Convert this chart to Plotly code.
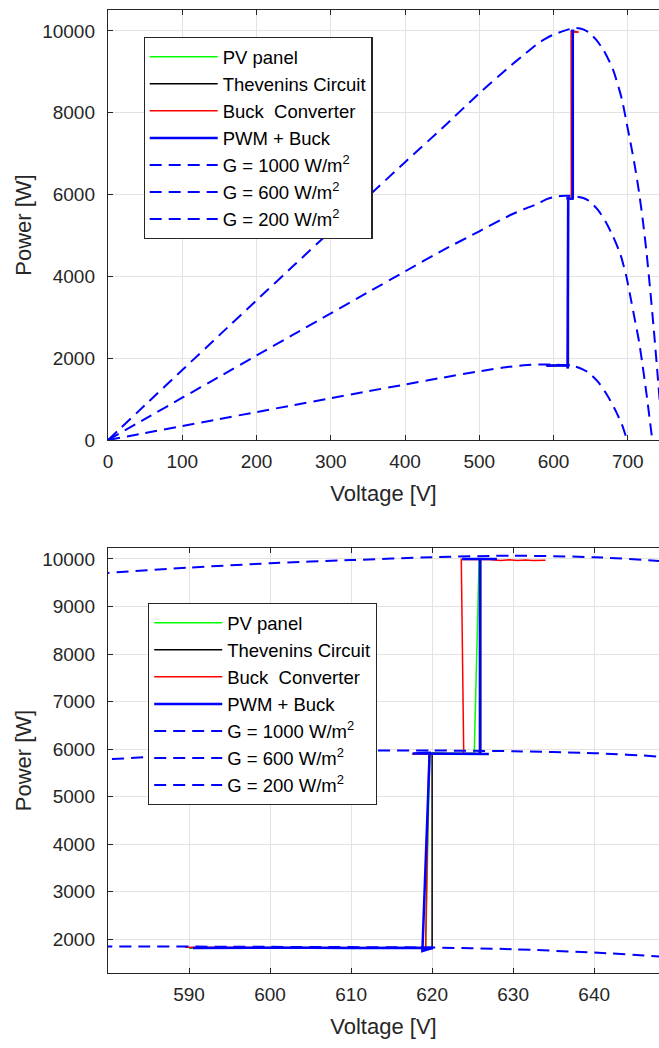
import plotly.graph_objects as go

# ---------------- data ----------------
# P-V characteristic curves (dashed)
v_g1000 = [0, 50, 100, 150, 200, 250, 300, 350, 400, 450, 500, 540, 560, 580, 590, 600, 610, 620, 630, 640,
           648, 657, 667, 680, 692, 700, 705, 710, 715, 720, 725, 730, 735, 740, 745, 747]
p_g1000 = [0, 855, 1710, 2563, 3415, 4263, 5110, 5950, 6790, 7620, 8475, 9115, 9414, 9706, 9817, 9910, 9975,
           10036, 10068, 10036, 9958, 9790, 9540, 9060, 8330, 7600, 7140, 6640, 6070, 5400, 4620, 3700, 2700,
           1620, 480, 0]

v_g600 = [0, 50, 100, 150, 200, 250, 300, 350, 400, 450, 500, 540, 560, 580, 590, 600, 610, 620, 630, 640,
          648, 660, 670, 680, 690, 698, 705, 710, 715, 720, 725, 730, 733]
p_g600 = [0, 517, 1033, 1549, 2065, 2580, 3095, 3610, 4120, 4630, 5100, 5481, 5640, 5785, 5880, 5935, 5965,
          5970, 5955, 5915, 5842, 5620, 5340, 4980, 4540, 4000, 3360, 2890, 2420, 1810, 1150, 430, 0]

v_g200 = [0, 50, 100, 150, 200, 250, 300, 350, 400, 450, 500, 540, 560, 580, 600, 620, 630, 640, 648, 660,
          670, 676, 684, 692, 699]
p_g200 = [0, 171, 342, 513, 683, 853, 1022, 1190, 1357, 1522, 1680, 1790, 1825, 1848, 1840, 1825, 1790, 1720,
          1638, 1420, 1160, 978, 700, 380, 0]

# MPPT tracking trajectories
pv_v = [590.0, 600.0, 610.0, 618.5, 619.2, 619.7, 622.0, 625.2, 625.8, 626.2]
pv_p = [1822, 1826, 1824, 1818, 1790, 5910, 5905, 5905, 9998, 9998]

thev_v = [590.0, 600.0, 610.0, 619.0, 620.0, 620.0, 622.0, 626.0, 626.0, 626.6]
thev_p = [1822, 1826, 1824, 1818, 1800, 5910, 5905, 5905, 9998, 9998]

buck_v = [589.5, 595.0, 600.0, 605.0, 610.0, 615.0, 619.2, 619.6, 617.5, 620.0, 623.9, 623.6, 624.5, 627.0,
          628.5, 629.5, 630.5, 631.5, 632.5, 633.5, 634.0]
buck_p = [1830, 1826, 1830, 1826, 1828, 1824, 1820, 5895, 5895, 5900, 5900, 9990, 9992, 9990, 9968, 9982,
          9965, 9980, 9968, 9978, 9972]

pwm_v = [590.5, 595.0, 600.0, 605.0, 610.0, 615.0, 620.1, 618.8, 619.7, 617.6, 622.0, 627.0, 625.9, 625.9,
         623.7, 628.0, 626.0]
pwm_p = [1815, 1822, 1818, 1822, 1818, 1820, 1820, 1750, 5920, 5905, 5900, 5895, 5900, 10000, 10000, 10000,
         10000]

names_track = ["PV panel", "Thevenins Circuit", "Buck\u00a0 Converter", "PWM + Buck"]
names_g = ["G = 1000 W/m<sup>2</sup>", "G = 600 W/m<sup>2</sup>", "G = 200 W/m<sup>2</sup>"]

top_xticks = [0, 100, 200, 300, 400, 500, 600, 700]
top_yticks = [0, 2000, 4000, 6000, 8000, 10000]
bot_xticks = [590, 600, 610, 620, 630, 640]
bot_yticks = [2000, 3000, 4000, 5000, 6000, 7000, 8000, 9000, 10000]

# ---------------- figure ----------------
FONT = "Liberation Sans, Arial, Helvetica, sans-serif"
TXT = "#262626"
fig = go.Figure()

track = [(pv_v, pv_p, "#00FF00", 1.5), (thev_v, thev_p, "#000000", 1.5),
         (buck_v, buck_p, "#FF0000", 1.5), (pwm_v, pwm_p, "#0000FF", 2.5)]
curves = [(v_g1000, p_g1000), (v_g600, p_g600), (v_g200, p_g200)]

for (xa, ya, leg) in [("x", "y", "legend"), ("x2", "y2", "legend2")]:
    for (vv, pp, col, w), nm in zip(track, names_track):
        fig.add_trace(go.Scatter(x=vv, y=pp, mode="lines", name=nm, xaxis=xa, yaxis=ya, legend=leg,
                                 line=dict(color=col, width=w)))
    for (vv, pp), nm in zip(curves, names_g):
        fig.add_trace(go.Scatter(x=vv, y=pp, mode="lines", name=nm, xaxis=xa, yaxis=ya, legend=leg,
                                 line=dict(color="#0000FF", width=2, dash="12px,7px", shape="spline",
                                           smoothing=0.6)))

axis_common = dict(showgrid=True, gridcolor="#e3e3e3", gridwidth=1, zeroline=False, showline=True,
                   linecolor=TXT, linewidth=1.2, ticks="inside", ticklen=5, tickcolor=TXT,
                   automargin=False, tickformat="d",
                   tickfont=dict(family=FONT, size=19, color=TXT))

W, H = 659, 1048
M_L, M_R, M_T, M_B = 108, 0, 10, 75
PH = H - M_T - M_B

def dom(top_px, bot_px):
    return [1 - (bot_px - M_T) / PH, 1 - (top_px - M_T) / PH]

title_font = dict(size=22, family=FONT, color=TXT)
legend_font = dict(family=FONT, size=18.5, color="#000000")

fig.update_layout(
    width=W, height=H,
    margin=dict(l=M_L, r=M_R, t=M_T, b=M_B, autoexpand=False),
    paper_bgcolor="white", plot_bgcolor="white",
    font=dict(family=FONT, color=TXT),
    hovermode=False,
    xaxis=dict(axis_common, domain=[0, 1], range=[0, 742], tickvals=top_xticks, anchor="y", mirror="ticks",
               ticklabelstandoff=4,
               title=dict(text="Voltage [V]", font=title_font, standoff=14)),
    yaxis=dict(axis_common, domain=dom(10, 440), range=[0, 10510], tickvals=top_yticks, anchor="x",
               ticklabelstandoff=8,
               title=dict(text="Power [W]", font=title_font, standoff=4)),
    xaxis2=dict(axis_common, domain=[0, 1], range=[580, 648], tickvals=bot_xticks, anchor="y2",
                mirror="ticks", ticklabelstandoff=4,
                title=dict(text="Voltage [V]", font=title_font, standoff=14)),
    yaxis2=dict(axis_common, domain=dom(548, 973), range=[1290, 10230], tickvals=bot_yticks, anchor="x2",
                ticklabelstandoff=8,
                title=dict(text="Power [W]", font=title_font, standoff=4)),
    legend=dict(x=(143.5 - M_L) / (W - M_L - M_R), y=dom(37, 300)[1], xanchor="left", yanchor="top",
                bgcolor="white", bordercolor=TXT, borderwidth=1.2,
                font=legend_font, itemwidth=68),
    legend2=dict(x=(148 - M_L) / (W - M_L - M_R), y=dom(603, 900)[1], xanchor="left", yanchor="top",
                 bgcolor="white", bordercolor=TXT, borderwidth=1.2,
                 font=legend_font, itemwidth=68),
    showlegend=True,
)

fig.write_html("out.html", config={"displayModeBar": False, "staticPlot": True},
               post_script="document.body.style.margin='0px';")
